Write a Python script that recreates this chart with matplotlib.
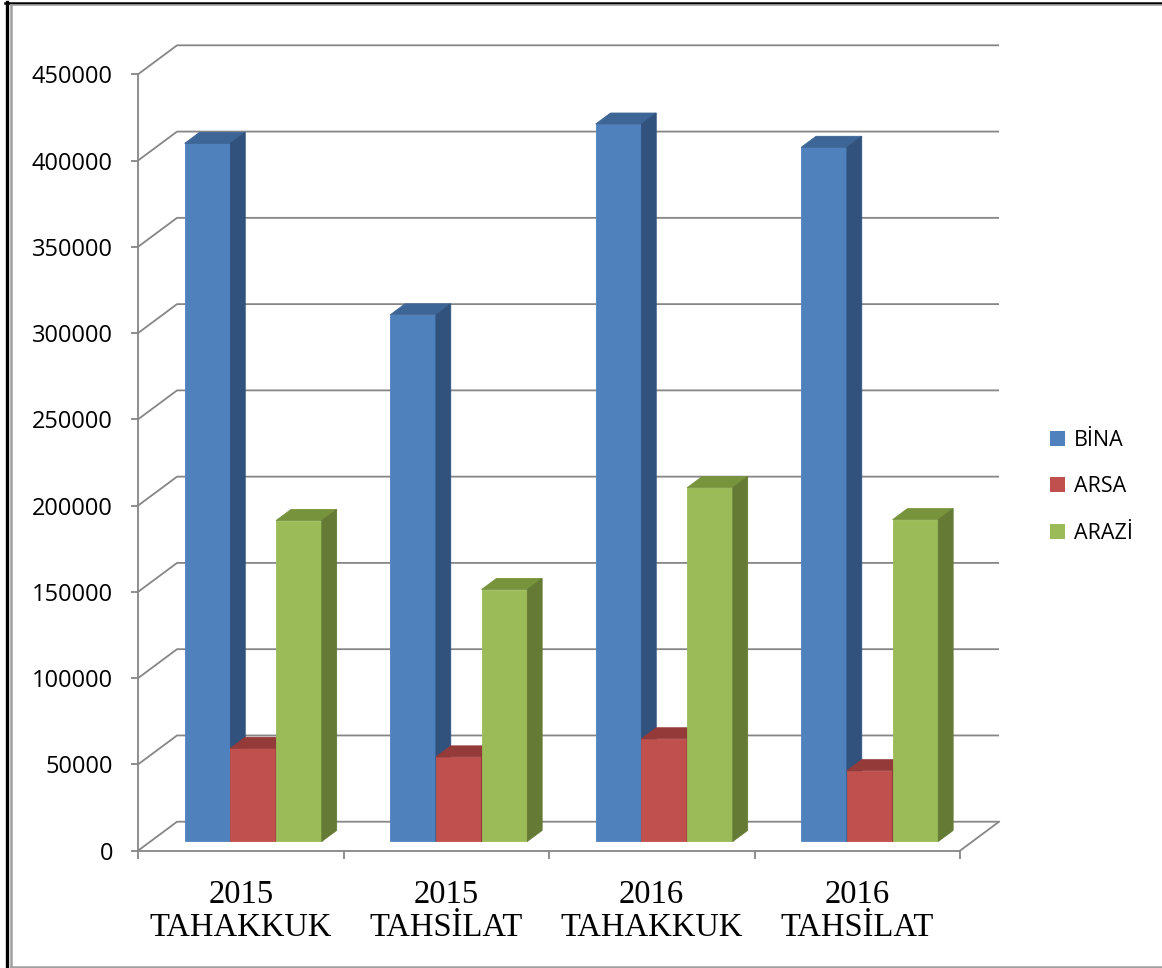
"""Emlak vergisi tahakkuk / tahsilat karşılaştırması (3B görünümlü sütun grafik)."""
import matplotlib
matplotlib.use("Agg")
import matplotlib.pyplot as plt
from matplotlib.patches import Polygon, Patch
from matplotlib.lines import Line2D

categories = ["2015\nTAHAKKUK", "2015\nTAHSİLAT", "2016\nTAHAKKUK", "2016\nTAHSİLAT"]
series_names = ["BİNA", "ARSA", "ARAZİ"]
bina = [404600, 305200, 415800, 402300]
arsa = [54000, 49000, 59500, 41000]
arazi = [186000, 146000, 205000, 186500]
y_ticks = list(range(0, 450001, 50000))

# front / top / side shades per series
shades = {
    "BİNA": ("#4F81BD", "#3D6596", "#30527D"),
    "ARSA": ("#C0504D", "#943B39", "#8C3836"),
    "ARAZİ": ("#9BBB59", "#77933C", "#657B35"),
}

# depth vector of the floor in data units, and where the bars sit inside it
DX, DY = 0.19, 16800
D0, D1 = 0.32, 0.70
BAR_W = 0.2224
GRID = "#868686"

fig = plt.figure(figsize=(11.62, 9.68), dpi=100)
ax = fig.add_axes([138 / 1162, 1 - 850.7 / 968, 822 / 1162, 776.4 / 968])
ax.set_xlim(0, len(categories))
ax.set_ylim(0, y_ticks[-1])
for s in ["top", "right"]:
    ax.spines[s].set_visible(False)
for s in ["left", "bottom"]:
    ax.spines[s].set_color(GRID)
    ax.spines[s].set_linewidth(1.3)
    ax.spines[s].set_zorder(1)

# walls: oblique side lines and back gridlines
for v in y_ticks:
    ax.plot([0, DX, len(categories) + DX], [v, v + DY, v + DY],
            color=GRID, lw=1.3, clip_on=False, zorder=1, solid_capstyle="butt")
# right floor edge
ax.plot([len(categories), len(categories) + DX], [0, DY], color=GRID, lw=1.3,
        clip_on=False, zorder=1)

# bars
z = 3
for i in range(len(categories)):
    for k, (name, vals) in enumerate(zip(series_names, [bina, arsa, arazi])):
        front, top, side = shades[name]
        v = vals[i]
        x0 = i + 0.5 + (k - 1.5) * BAR_W
        x1 = x0 + BAR_W
        fx0, fx1, fy = x0 + D0 * DX, x1 + D0 * DX, D0 * DY
        bx0, bx1, by = x0 + D1 * DX, x1 + D1 * DX, D1 * DY
        faces = [
            ([(fx0, fy), (fx1, fy), (fx1, v + fy), (fx0, v + fy)], front),
            ([(fx0, v + fy), (fx1, v + fy), (bx1, v + by), (bx0, v + by)], top),
            ([(fx1, fy), (bx1, by), (bx1, v + by), (fx1, v + fy)], side),
        ]
        for pts, col in faces:
            ax.add_patch(Polygon(pts, closed=True, facecolor=col, edgecolor=col,
                                 lw=0.6, clip_on=False, zorder=z))
        z += 1

ax.set_yticks(y_ticks)
ax.set_yticklabels([str(v) for v in y_ticks], fontsize=17, family="Open Sans")
ax.tick_params(axis="y", length=5, width=1.3, color=GRID, pad=13)

ax.set_xticks(range(len(categories) + 1))
ax.set_xticklabels([])
ax.tick_params(axis="x", which="major", length=6, width=1.3, color=GRID)
ax.set_xticks([i + 0.5 for i in range(len(categories))], minor=True)
ax.set_xticklabels(categories, minor=True, fontsize=23.5, family="Liberation Serif",
                   linespacing=1.08)
ax.tick_params(axis="x", which="minor", length=0, pad=21)

handles = [Patch(facecolor=shades[n][0], edgecolor="none") for n in series_names]
fig.legend(handles, series_names, loc="center left",
           bbox_to_anchor=(1050 / 1162, 1 - 487 / 968), frameon=False,
           prop={"family": "Open Sans", "size": 15.5}, handlelength=0.7,
           handleheight=0.7, handletextpad=0.4, labelspacing=1.2, borderpad=0,
           borderaxespad=0)

# outer frame
fig.add_artist(Line2D([6.5 / 1162] * 2, [0, 1 - 2 / 968], color="black", lw=2.4,
                      transform=fig.transFigure))
fig.add_artist(Line2D([5 / 1162, 1], [1 - 3 / 968] * 2, color="black", lw=1.8,
                      transform=fig.transFigure))
fig.add_artist(Line2D([10.5 / 1162] * 2, [1 - 966.5 / 968, 1 - 4.5 / 968], color="#A0A0A0",
                      lw=1.8, transform=fig.transFigure))
fig.add_artist(Line2D([10.5 / 1162, 1], [1 - 4.8 / 968] * 2, color="#A0A0A0", lw=1.2,
                      transform=fig.transFigure))
fig.add_artist(Line2D([10.5 / 1162, 1], [1 - 966.5 / 968] * 2, color="#A0A0A0", lw=1.8,
                      transform=fig.transFigure))

fig.savefig("out.png", dpi=100)
